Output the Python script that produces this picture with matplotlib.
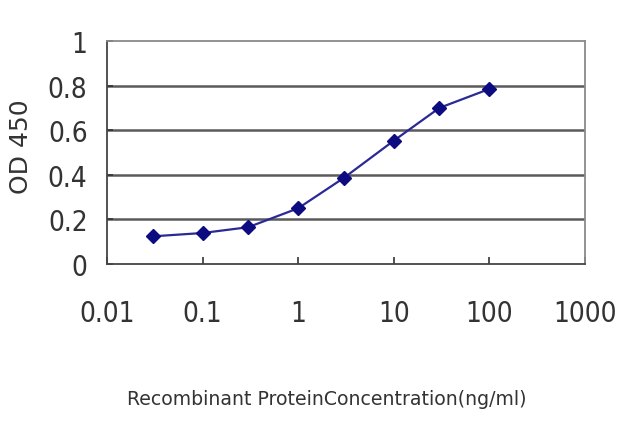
import matplotlib
matplotlib.use('Agg')
import matplotlib.pyplot as plt
from matplotlib.ticker import FixedLocator, NullLocator

# concentration (ng/ml) and OD 450 readings
conc = [0.03, 0.1, 0.3, 1, 3, 10, 30, 100]
od = [0.124, 0.139, 0.165, 0.25, 0.386, 0.553, 0.70, 0.785]

xticks = [0.01, 0.1, 1, 10, 100, 1000]
xticklabels = ['0.01', '0.1', '1', '10', '100', '1000']
yticks = [0, 0.2, 0.4, 0.6, 0.8, 1]
yticklabels = ['0', '0.2', '0.4', '0.6', '0.8', '1']

plt.rcParams['font.family'] = ['DejaVu Sans']

fig = plt.figure(figsize=(6.4, 4.27), dpi=100)
ax = fig.add_axes([107 / 640, 1 - 265 / 427, 478 / 640, 223 / 427])

# gridlines
for yv in yticks[1:-1]:
    ax.axhline(yv, color='#5a5a5a', lw=1.8, zorder=1)

ax.plot(conc, od, color='#2a2a96', lw=1.6, marker='D', ms=7,
        markerfacecolor='#0c0c80', markeredgecolor='#0c0c80', zorder=3)

ax.set_xscale('log')
ax.set_xlim(0.01, 1000)
ax.set_ylim(0, 1)
ax.xaxis.set_major_locator(FixedLocator(xticks))
ax.xaxis.set_minor_locator(NullLocator())
ax.set_xticklabels(xticklabels, fontstretch='condensed')
ax.set_yticks(yticks)
ax.set_yticklabels(yticklabels, fontstretch='condensed')

ax.tick_params(axis='x', direction='in', length=5, width=1.2, pad=25,
               labelsize=20, colors='#333333')
ax.tick_params(axis='y', direction='in', length=4, width=1.2, pad=14,
               labelsize=20, colors='#333333')

for side in ['left', 'bottom']:
    ax.spines[side].set_color('#444444')
    ax.spines[side].set_linewidth(1.3)
for side in ['top', 'right']:
    ax.spines[side].set_color('#8a8a8a')
    ax.spines[side].set_linewidth(1.3)

ax.set_ylabel('OD 450', fontsize=18, color='#333333')
ax.yaxis.set_label_coords(-0.155, 0.53)
ax.set_xlabel('Recombinant ProteinConcentration(ng/ml)', fontsize=13.6,
              color='#333333')
ax.xaxis.set_label_coords(0.46, -0.56)

fig.savefig('out.png', dpi=100)
